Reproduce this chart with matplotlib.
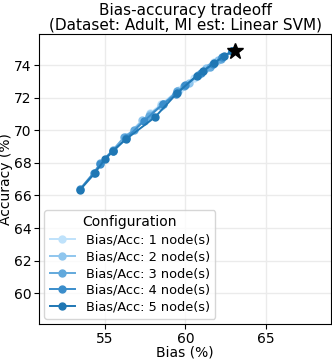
import matplotlib
matplotlib.use("Agg")
import matplotlib.pyplot as plt

# bias / accuracy per number of nodes
bias_1 = [62.9, 61.8, 60.5, 59.6, 58.5, 57.8]
acc_1 = [74.85, 74.2, 73.2, 72.5, 71.6, 71.05]
bias_2 = [62.9, 62.0, 61.3, 60.2, 59.5, 58.5, 57.8, 57.3, 56.3]
acc_2 = [74.85, 74.3, 73.8, 72.9, 72.4, 71.5, 71.0, 70.6, 69.6]
bias_3 = [62.9, 62.2, 61.5, 60.8, 59.9, 59.5, 58.6, 57.7, 56.8, 56.2, 55.5, 54.7]
acc_3 = [74.85, 74.4, 73.9, 73.4, 72.7, 72.4, 71.6, 70.9, 70.0, 69.6, 68.8, 68.0]
bias_4 = [62.9, 62.3, 61.7, 60.95, 60.0, 59.4, 58.6, 57.4, 56.3, 55.5, 54.7, 54.3, 53.45]
acc_4 = [74.85, 74.5, 74.05, 73.5, 72.75, 72.2, 71.6, 70.55, 69.5, 68.7, 67.95, 67.4, 66.4]
bias_5 = [62.9, 62.4, 61.75, 61.1, 60.7, 59.5, 58.1, 56.3, 55.5, 55.0, 54.35, 53.45]
acc_5 = [74.85, 74.55, 74.1, 73.65, 73.35, 72.3, 70.8, 69.45, 68.75, 68.25, 67.35, 66.35]

series = [(bias_1, acc_1), (bias_2, acc_2), (bias_3, acc_3), (bias_4, acc_4), (bias_5, acc_5)]
labels = ["Bias/Acc: %d node(s)" % n for n in range(1, 6)]
colors = ["#bfe2fb", "#8fc6ee", "#62a9dc", "#3a8dcb", "#1f77b4"]

base_bias = 63.1
base_acc = 74.85

fig = plt.figure(figsize=(3.32, 3.59), dpi=100)
ax = fig.add_axes([0.118, 0.097, 0.879, 0.808])

for (b, a), lab, c in zip(series, labels, colors):
    ax.plot(b, a, marker="o", markersize=5, linewidth=1.4, color=c, label=lab)

ax.plot([base_bias], [base_acc], marker="*", markersize=12, color="black", linestyle="none", zorder=5)

ax.set_xlim(50.9, 69.05)
ax.set_ylim(58.1, 75.9)
ax.set_xticks([55, 60, 65])
ax.set_yticks([60, 62, 64, 66, 68, 70, 72, 74])
ax.tick_params(labelsize=10, pad=2)
ax.grid(True, color="#ebebeb", linewidth=1)
ax.set_axisbelow(True)

ax.set_xlabel("Bias (%)", fontsize=10, labelpad=0)
ax.set_ylabel("Accuracy (%)", fontsize=10)
ax.yaxis.set_label_coords(-0.09, 0.5)
ax.set_title("Bias-accuracy tradeoff\n(Dataset: Adult, MI est: Linear SVM)", fontsize=11, pad=3, linespacing=1.0)

ax.legend(title="Configuration", loc="lower left", fontsize=9.3, title_fontsize=10,
          borderaxespad=0.4, handlelength=2.0, labelspacing=0.3)

fig.savefig("out.png", dpi=100)
